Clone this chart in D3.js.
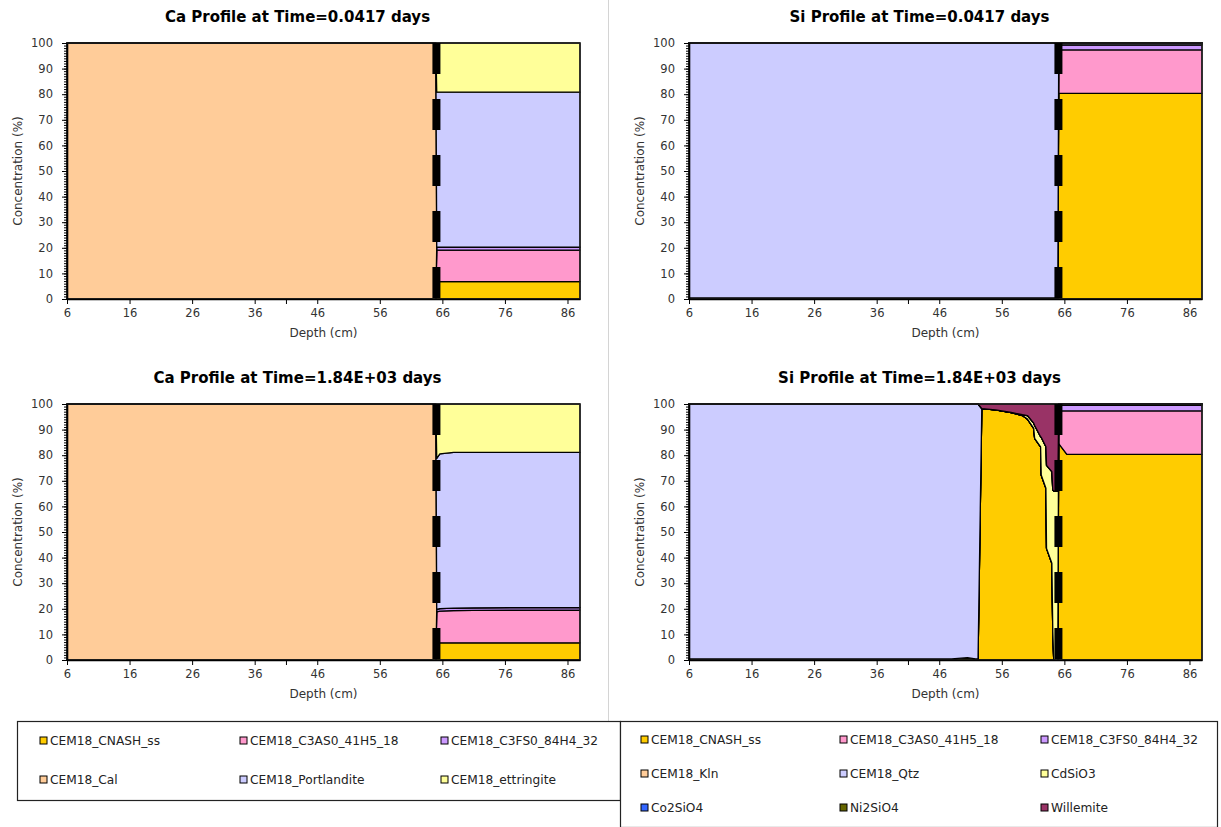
<!DOCTYPE html>
<html>
<head>
<meta charset="utf-8">
<script src="https://cdn.jsdelivr.net/npm/d3@7"></script>
<style>
  body { margin: 0; background: #fff; }
  svg { display: block; font-family: "DejaVu Sans", Verdana, sans-serif; }
</style>
</head>
<body>
<svg id="fig" width="1221" height="827"></svg>
<script>
// ---- axis ticks ----
const depthTickLabels = [6, 16, 26, 36, 46, 56, 66, 76, 86];
const depthMinorTicks = [41];
const concTickLabels = [0, 10, 20, 30, 40, 50, 60, 70, 80, 90, 100];

// ---- phase names ----
const caPhases = ["CEM18_CNASH_ss", "CEM18_C3AS0_41H5_18", "CEM18_C3FS0_84H4_32",
                  "CEM18_Cal", "CEM18_Portlandite", "CEM18_ettringite"];
const siPhases = ["CEM18_CNASH_ss", "CEM18_C3AS0_41H5_18", "CEM18_C3FS0_84H4_32",
                  "CEM18_Kln", "CEM18_Qtz", "CdSiO3", "Co2SiO4", "Ni2SiO4", "Willemite"];

// interface between the two materials (cm)
const interfaceDepth = 65.05;

// ---- Ca profile, t = 0.0417 days ----
const caDepthEarly        = [6, 64.95, 65.1, 88];
const caEarlyCNASH        = [0, 0, 6.8, 6.8];
const caEarlyC3AS0        = [0, 0, 12.3, 12.3];
const caEarlyC3FS0        = [0, 0, 1.2, 1.2];
const caEarlyCal          = [100, 100, 0, 0];
const caEarlyPortlandite  = [0, 0, 60.5, 60.5];
const caEarlyEttringite   = [0, 0, 19.2, 19.2];

// ---- Ca profile, t = 1.84E+03 days ----
const caDepthLate         = [6, 64.95, 65.1, 65.6, 67.8, 71, 88];
const caLateCNASH         = [0, 0, 6.7, 6.7, 6.7, 6.7, 6.7];
const caLateC3AS0         = [0, 0, 12.1, 12.4, 12.6, 12.7, 12.8];
const caLateC3FS0         = [0, 0, 1.0, 1.0, 1.0, 1.0, 1.0];
const caLateCal           = [100, 100, 0, 0, 0, 0, 0];
const caLatePortlandite   = [0, 0, 59.0, 60.4, 60.8, 60.7, 60.6];
const caLateEttringite    = [0, 0, 21.2, 19.5, 18.9, 18.9, 18.9];

// ---- Si profile, t = 0.0417 days ----
const siDepthEarly        = [6, 64.95, 65.1, 88];
const siEarlyCNASH        = [0.4, 0.4, 80.3, 80.3];
const siEarlyC3AS0        = [0, 0, 17.0, 17.0];
const siEarlyC3FS0        = [0, 0, 2.0, 2.0];
const siEarlyKln          = [0, 0, 0, 0];
const siEarlyQtz          = [99.6, 99.6, 0.7, 0.7];
const siEarlyCdSiO3       = [0, 0, 0, 0];
const siEarlyCo2SiO4      = [0, 0, 0, 0];
const siEarlyNi2SiO4      = [0, 0, 0, 0];
const siEarlyWillemite    = [0, 0, 0, 0];

// ---- Si profile, t = 1.84E+03 days ----
const siDepthLate     = [6, 48, 50.5, 51.8, 52.2, 52.8, 55, 57.5, 59.3, 60.1, 61.1, 61.25, 62.2, 62.3, 63.05, 63.15, 64.0, 64.15, 64.3, 64.95, 65.1, 66.4, 88];
const siLateCNASH     = [0.4, 0.4, 0.9, 0.4, 0.4, 98.2, 97.7, 96.6, 95.5, 94.1, 90.5, 86.6, 83.3, 72.3, 67.1, 43.6, 37.8, 11.0, 0, 0, 84.5, 80.3, 80.3];
const siLateC3AS0     = [0, 0, 0, 0, 0, 0, 0, 0, 0, 0, 0, 0, 0, 0, 0, 0, 0, 0, 0, 0, 12.8, 17.0, 17.0];
const siLateC3FS0     = [0, 0, 0, 0, 0, 0, 0, 0, 0, 0, 0, 0, 0, 0, 0, 0, 0, 0, 0, 0, 2.3, 2.3, 2.3];
const siLateKln       = [0, 0, 0, 0, 0, 0, 0, 0, 0, 0, 0, 0, 0, 0, 0, 0, 0, 0, 0, 0, 0, 0, 0];
const siLateQtz       = [99.6, 99.6, 99.1, 99.6, 99.6, 0, 0, 0, 0, 0, 0, 0, 0, 0, 0, 0, 0, 0, 0, 0, 0.4, 0.4, 0.4];
const siLateCdSiO3    = [0, 0, 0, 0, 0, 0, 0, 0.1, 0.3, 1.4, 2.0, 5.0, 3.9, 14.7, 16.2, 32.4, 35.8, 55.4, 66.0, 66.0, 0, 0, 0];
const siLateCo2SiO4   = [0, 0, 0, 0, 0, 0, 0, 0, 0, 0, 0, 0, 0, 0, 0, 0, 0, 0, 0, 0, 0, 0, 0];
const siLateNi2SiO4   = [0, 0, 0, 0, 0, 0, 0, 0, 0, 0, 0, 0, 0, 0, 0, 0, 0, 0, 0, 0, 0, 0, 0];
const siLateWillemite = [0, 0, 0, 0, 0, 1.8, 2.3, 3.3, 4.2, 4.5, 7.5, 8.4, 12.8, 13.0, 16.7, 24.0, 26.4, 33.6, 34.0, 34.0, 0, 0, 0];

// ---- fill colours per phase ----
const colour = {
  "CEM18_CNASH_ss": "#FFCC00",
  "CEM18_C3AS0_41H5_18": "#FF99CC",
  "CEM18_C3FS0_84H4_32": "#CC99FF",
  "CEM18_Cal": "#FFCC99",
  "CEM18_Kln": "#FFCC99",
  "CEM18_Portlandite": "#CCCCFF",
  "CEM18_Qtz": "#CCCCFF",
  "CEM18_ettringite": "#FFFF99",
  "CdSiO3": "#FFFF99",
  "Co2SiO4": "#3366FF",
  "Ni2SiO4": "#666600",
  "Willemite": "#993366"
};

const svg = d3.select("#fig");
const W = 513, H = 256;

// panel separator
svg.append("line").attr("x1", 608.5).attr("x2", 608.5).attr("y1", 0).attr("y2", 721)
  .attr("stroke", "#d4d4d4").attr("stroke-width", 1);

function panel(left, top, title, depth, names, series) {
  const g = svg.append("g").attr("transform", `translate(${left},${top})`);
  const x = d3.scaleLinear().domain([6, 88]).range([0, W]);
  const y = d3.scaleLinear().domain([0, 100]).range([H, 0]);

  const rows = depth.map((d, i) => {
    const r = { depth: d };
    names.forEach((n, k) => { r[n] = series[k][i]; });
    return r;
  });
  const layers = d3.stack().keys(names)(rows);
  const area = d3.area()
    .x(d => x(d.data.depth))
    .y0(d => y(d[0]))
    .y1(d => y(Math.min(100, d[1])));

  g.append("g").selectAll("path").data(layers).join("path")
    .attr("d", area)
    .attr("fill", d => colour[d.key])
    .attr("stroke", "#000")
    .attr("stroke-width", 1.3)
    .attr("stroke-linejoin", "round");

  // plot frame
  g.append("rect").attr("x", 0).attr("y", 0).attr("width", W).attr("height", H)
    .attr("fill", "none").attr("stroke", "#222").attr("stroke-width", 1.4);

  // interface marker
  g.append("line")
    .attr("x1", x(interfaceDepth)).attr("x2", x(interfaceDepth))
    .attr("y1", y(100)).attr("y2", y(0))
    .attr("stroke", "#000").attr("stroke-width", 8)
    .attr("stroke-dasharray", "31,25");

  // y axis: minor then major
  g.append("g")
    .call(d3.axisLeft(y).tickValues(d3.range(0, 101, 1)).tickSize(3).tickSizeOuter(0).tickFormat(""))
    .call(a => a.select(".domain").remove());
  const ya = g.append("g")
    .call(d3.axisLeft(y).tickValues(concTickLabels).tickSize(5).tickSizeOuter(0).tickPadding(9));
  ya.select(".domain").attr("stroke", "#000").attr("stroke-width", 1.6);
  ya.selectAll("text").attr("font-size", 11.5).attr("fill", "#333").attr("font-family", "DejaVu Sans");

  // x axis
  const xa = g.append("g").attr("transform", `translate(0,${H})`)
    .call(d3.axisBottom(x).tickValues(depthTickLabels).tickSize(5).tickSizeOuter(0).tickPadding(5));
  xa.select(".domain").attr("stroke", "#000").attr("stroke-width", 1.6);
  xa.selectAll("text").attr("font-size", 11.5).attr("fill", "#333").attr("font-family", "DejaVu Sans");
  g.append("g").attr("transform", `translate(0,${H})`)
    .call(d3.axisBottom(x).tickValues(depthMinorTicks).tickSize(5).tickSizeOuter(0).tickFormat(""))
    .call(a => a.select(".domain").remove());

  // titles
  g.append("text").attr("x", W / 2 - 26).attr("y", -21)
    .attr("text-anchor", "middle").attr("font-weight", "bold").attr("font-size", 15)
    .attr("fill", "#000").text(title);
  g.append("text").attr("x", W / 2).attr("y", H + 38)
    .attr("text-anchor", "middle").attr("font-size", 12).attr("fill", "#333")
    .text("Depth (cm)");
  g.append("text").attr("transform", `translate(-45.5,${H / 2}) rotate(-90)`)
    .attr("text-anchor", "middle").attr("font-size", 12).attr("fill", "#333")
    .text("Concentration (%)");
}

panel(67, 43, "Ca Profile at Time=0.0417 days", caDepthEarly, caPhases,
  [caEarlyCNASH, caEarlyC3AS0, caEarlyC3FS0, caEarlyCal, caEarlyPortlandite, caEarlyEttringite]);
panel(689, 43, "Si Profile at Time=0.0417 days", siDepthEarly, siPhases,
  [siEarlyCNASH, siEarlyC3AS0, siEarlyC3FS0, siEarlyKln, siEarlyQtz,
   siEarlyCdSiO3, siEarlyCo2SiO4, siEarlyNi2SiO4, siEarlyWillemite]);
panel(67, 404, "Ca Profile at Time=1.84E+03 days", caDepthLate, caPhases,
  [caLateCNASH, caLateC3AS0, caLateC3FS0, caLateCal, caLatePortlandite, caLateEttringite]);
panel(689, 404, "Si Profile at Time=1.84E+03 days", siDepthLate, siPhases,
  [siLateCNASH, siLateC3AS0, siLateC3FS0, siLateKln, siLateQtz,
   siLateCdSiO3, siLateCo2SiO4, siLateNi2SiO4, siLateWillemite]);

// ---- legends ----
function legend(x0, y0, w, h, names, colX, rowY) {
  const g = svg.append("g");
  g.append("rect").attr("x", x0).attr("y", y0).attr("width", w).attr("height", h)
    .attr("fill", "#fff").attr("stroke", "#222").attr("stroke-width", 1.2);
  const items = g.selectAll("g.item").data(names).join("g")
    .attr("transform", (d, i) => `translate(${colX[i % 3]},${rowY[Math.floor(i / 3)]})`);
  items.append("rect").attr("x", 0).attr("y", -4).attr("width", 7).attr("height", 7)
    .attr("fill", d => colour[d]).attr("stroke", "#000").attr("stroke-width", 1);
  items.append("text").attr("x", 10).attr("y", 4).attr("font-size", 12.2).attr("fill", "#222")
    .text(d => d);
}
legend(17.5, 721.5, 603, 79, caPhases, [40, 240, 441], [741, 780]);
legend(620.5, 721.5, 597, 106, siPhases, [641, 840, 1041], [740, 774, 808]);
</script>
</body>
</html>
